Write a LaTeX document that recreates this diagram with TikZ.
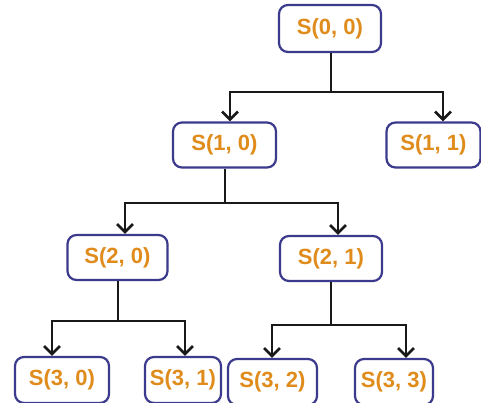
\documentclass[tikz,border=0pt]{standalone}
\usepackage{fontspec}
\setmainfont{Liberation Sans}
\usetikzlibrary{arrows.meta}
\definecolor{bx}{HTML}{3B3A8C}
\definecolor{tx}{HTML}{E08C1C}
\begin{document}
\begin{tikzpicture}[x=1pt,y=-1pt,
  st/.style={draw=bx, line width=2.2pt, rounded corners=9pt, fill=white,
    font=\bfseries\fontsize{22}{26}\selectfont, text=tx, inner sep=0pt, minimum height=45pt},
  ln/.style={line width=2.6pt, draw=black!90},
  ar/.style={ln, -{Straight Barb[length=8pt,width=16pt,line width=2.6pt]}}]
\useasboundingbox (0,0) rectangle (481,402);
\clip (0,0) rectangle (481,402);
\fill[white] (0,0) rectangle (481,402);
% nodes
\node[st, minimum width=102pt, minimum height=47pt] (s00) at (330,28.5) {S(0, 0)};
\node[st, minimum width=103pt] (s10) at (224.5,145) {S(1, 0)};
\node[st, minimum width=94pt] (s11) at (433.5,145) {S(1, 1)};
\node[st, minimum width=100pt] (s20) at (117.5,257.5) {S(2, 0)};
\node[st, minimum width=102pt] (s21) at (331,258.5) {S(2, 1)};
\node[st, minimum width=94pt, minimum height=46pt] (s30) at (62,380) {S(3, 0)};
\node[st, minimum width=76pt, minimum height=46pt] (s31) at (183,380) {S(3, 1)};
\node[st, minimum width=89pt, minimum height=46pt] (s32) at (272.5,382) {S(3, 2)};
\node[st, minimum width=78pt, minimum height=46pt] (s33) at (394,382) {S(3, 3)};
% junctions
\coordinate (h0) at (331,92);
\coordinate (h1) at (225,203);
\coordinate (h2) at (118,321);
\coordinate (h3) at (331,325);
% connectors
\draw[ln] (s00.south -| h0) -- (h0);
\draw[ar] (h0) -| ([xshift=5.5pt]s10.north);
\draw[ar] (h0) -| ([xshift=9.5pt]s11.north);
\draw[ln] (s10.south -| h1) -- (h1);
\draw[ar] (h1) -| ([xshift=7.5pt]s20.north);
\draw[ar] (h1) -| ([xshift=7pt]s21.north);
\draw[ln] (s20.south -| h2) -- (h2);
\draw[ar] (h2) -| ([xshift=-10pt]s30.north);
\draw[ar] (h2) -| ([xshift=2pt]s31.north);
\draw[ln] (s21.south -| h3) -- (h3);
\draw[ar] (h3) -| ([xshift=-0.5pt]s32.north);
\draw[ar] (h3) -| ([xshift=12pt]s33.north);
\end{tikzpicture}
\end{document}
